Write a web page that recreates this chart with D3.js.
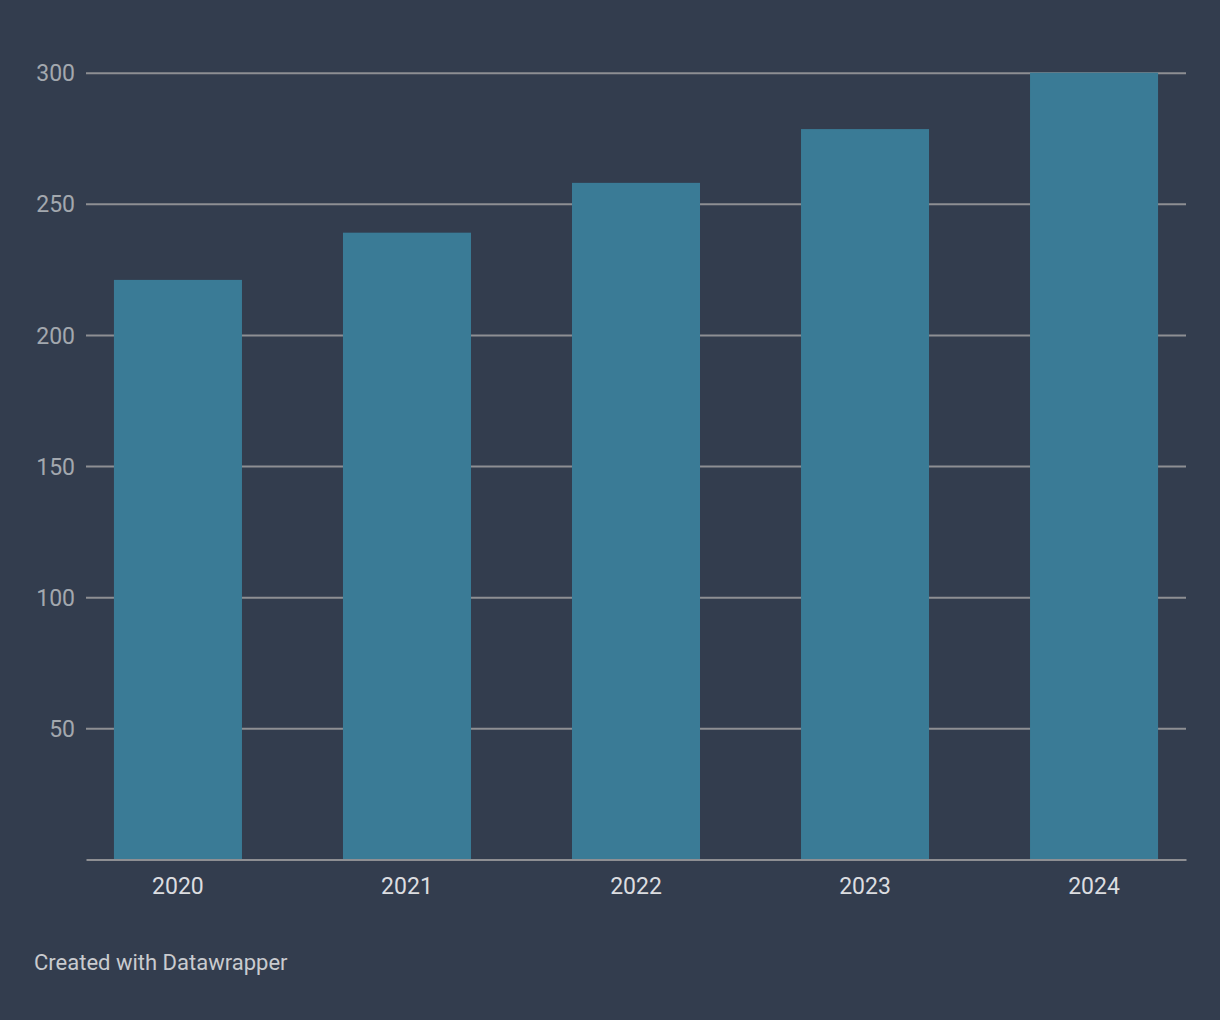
<!DOCTYPE html>
<html>
<head>
<meta charset="utf-8">
<script src="https://cdn.jsdelivr.net/npm/d3@7"></script>
<style>
html,body{margin:0;padding:0;background:#333d4e;}
svg{display:block;font-family:Roboto,"Noto Sans",sans-serif;}
</style>
</head>
<body>
<svg id="chart" width="1220" height="1020"></svg>
<script>
const categories = ["2020","2021","2022","2023","2024"];
const values = [221, 239, 258, 278.5, 300];
const yTicks = [50, 100, 150, 200, 250, 300];
const footerText = "Created with Datawrapper";

const svg = d3.select("#chart");
svg.append("rect").attr("width",1220).attr("height",1020).attr("fill","#333d4e");

const x = d3.scaleBand().domain(categories).range([86,1186]).paddingInner(0.441).paddingOuter(0.122);
const y = d3.scaleLinear().domain([0,300]).range([859.5,72.7]);

// gridlines
const grid = svg.append("g")
  .attr("transform","translate(86,0)")
  .call(d3.axisLeft(y).tickValues(yTicks).tickSize(-1100).tickFormat(""));
grid.select(".domain").remove();
grid.selectAll(".tick line").attr("stroke","#8e8f93").attr("stroke-width",2);

// y labels
const yl = svg.append("g")
  .attr("transform","translate(75,0)")
  .call(d3.axisLeft(y).tickValues(yTicks).tickSize(0).tickPadding(0));
yl.select(".domain").remove();
yl.selectAll("text").attr("fill","#a3a8ae").attr("font-size",23).attr("font-family","Roboto").attr("dy","0.35em");

// bars
svg.append("g").selectAll("rect").data(categories).join("rect")
  .attr("x",d=>x(d)).attr("width",x.bandwidth())
  .attr("y",(d,i)=>y(values[i])).attr("height",(d,i)=>y(0)-y(values[i]))
  .attr("fill","#3a7b96");

// baseline + x labels
const xa = svg.append("g").attr("transform",`translate(0,${y(0)})`)
  .call(d3.axisBottom(x).tickSize(0).tickPadding(34.5));
xa.select(".domain").attr("stroke","#8e8f93").attr("stroke-width",2);
xa.selectAll("text").attr("fill","#dcdde0").attr("font-size",23).attr("font-family","Roboto").attr("dy","0");

svg.append("text").attr("x",34).attr("y",970).attr("fill","#c9cbcf")
  .attr("font-size",22).attr("font-family","Roboto").text(footerText);
</script>
</body>
</html>
